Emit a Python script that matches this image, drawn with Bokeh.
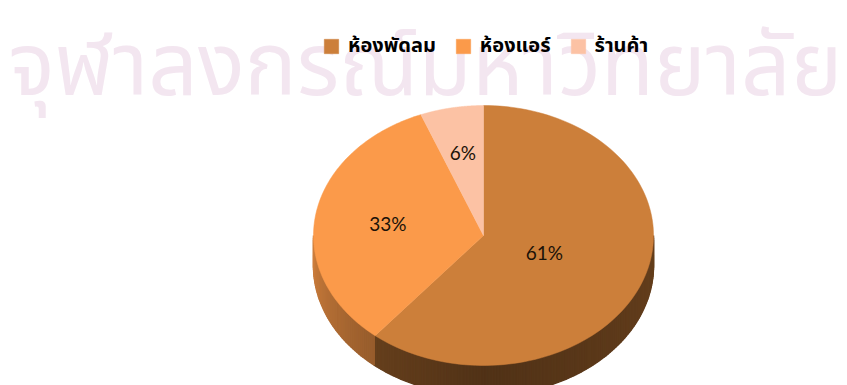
import numpy as np
from bokeh.core.properties import value
from bokeh.embed import file_html
from bokeh.models import ColumnDataSource, Legend, LegendItem, Range1d
from bokeh.plotting import figure
from bokeh.resources import INLINE

# Shares of floor use by room type
categories = ["ห้องพัดลม", "ห้องแอร์", "ร้านค้า"]
shares = [61, 33, 6]
share_labels = ["61%", "33%", "6%"]
top_colors = ["#cc7f3a", "#fb9a4a", "#fcc2a4"]
banner = "จุฬาลงกรณ์มหาวิทยาลัย"

WIDTH, HEIGHT = 847, 385
CX, CY, RX, RY, DEPTH = 483, 235, 170, 130, 30
LABEL_RADIUS = [0.38, 0.57, 0.65]

p = figure(width=WIDTH, height=HEIGHT, output_backend="svg", toolbar_location=None,
           x_range=Range1d(0, WIDTH), y_range=Range1d(HEIGHT, 0),
           min_border=0, outline_line_color=None, background_fill_color="white")
p.axis.visible = False
p.grid.visible = False

p.text(x=[8], y=[68], text=[banner], text_font=value("Noto Sans Thai"),
       text_font_size="87px", text_color="#f3e6f0", text_baseline="alphabetic")


def ellipse_point(theta):
    return CX + RX * np.sin(theta), CY - RY * np.cos(theta)


fractions = np.cumsum([0] + shares) / sum(shares) * 2 * np.pi
starts, ends = fractions[:-1], fractions[1:]

# Rim of the disc: thin strips shaded by their angle, lit from the left
strip_edges = np.linspace(np.pi / 2, 3 * np.pi / 2, 181)
xs_side, ys_side, side_colors = [], [], []
for a, b in zip(strip_edges[:-1], strip_edges[1:]):
    mid = (a + b) / 2
    idx = int(np.searchsorted(ends, mid))
    base = np.array([int(top_colors[idx][i:i + 2], 16) for i in (1, 3, 5)])
    if idx == 0:
        shade = np.interp(mid, [np.pi / 2, np.pi, ends[0]], [0.50, 0.40, 0.50])
    else:
        shade = np.interp(mid, [ends[0], 3 * np.pi / 2], [0.60, 0.82])
    r, g, b_ = (base * shade).astype(int)
    x0, y0 = ellipse_point(a)
    x1, y1 = ellipse_point(b)
    xs_side.append([x0, x1, x1, x0])
    ys_side.append([y0, y1, y1 + DEPTH, y0 + DEPTH])
    side_colors.append(f"#{r:02x}{g:02x}{b_:02x}")
p.patches(xs_side, ys_side, fill_color=side_colors, line_color=side_colors, line_width=1.5)

# Top face of the disc, one wedge per category
items = []
for name, start, end, color in zip(categories, starts, ends, top_colors):
    t = np.linspace(start, end, 120)
    ex, ey = ellipse_point(t)
    wedge = p.patch(np.r_[CX, ex], np.r_[CY, ey], fill_color=color, line_color=color, line_width=0.5)
    items.append(LegendItem(label=name, renderers=[wedge]))

mids = (starts + ends) / 2
label_x = CX + RX * np.sin(mids) * LABEL_RADIUS
label_y = CY - RY * np.cos(mids) * LABEL_RADIUS
p.text(x="x", y="y", text="t", source=ColumnDataSource(dict(x=label_x, y=label_y, t=share_labels)),
       text_font=value("Lato"), text_font_size="19px", text_color="#1a1208",
       text_align="center", text_baseline="middle")

legend = Legend(items=items, orientation="horizontal", location=(322, 324),
                background_fill_alpha=0, border_line_color=None,
                glyph_width=18, glyph_height=18, spacing=18, label_standoff=8, padding=8, margin=0,
                label_text_font="Noto Sans Thai", label_text_font_size="20px",
                label_text_font_style="bold", label_text_color="black")
p.add_layout(legend, "center")

open("out.html", "w").write(file_html(p, INLINE))
